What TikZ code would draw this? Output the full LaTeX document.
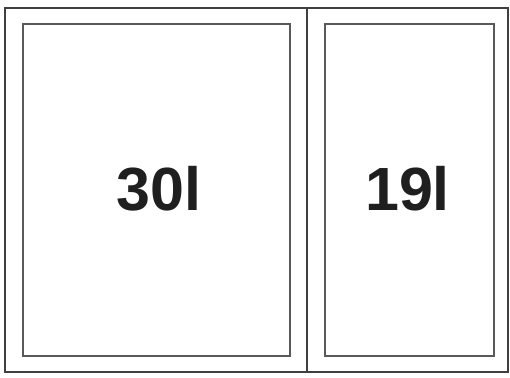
\documentclass[tikz,border=0pt]{standalone}
\usepackage{fontspec}
\setmainfont{Liberation Sans}
\usepackage{tikz}
\usetikzlibrary{positioning}

\begin{document}
\begin{tikzpicture}[
  x=1pt, y=-1pt,
  frame/.style={draw=black!75, line width=1.2pt, inner sep=0pt, outer sep=0pt},
  tank/.style={draw=black!65, line width=2pt, inner sep=0pt, outer sep=0pt,
    minimum height=331pt},
  volume/.style={inner sep=0pt, font=\fontsize{61}{61}\selectfont\bfseries,
    text=black!88}
]
  \useasboundingbox (0,0) rectangle (510,377);
  \node[frame, minimum width=503pt, minimum height=364pt] (outer) at (256.5,190) {};
  \node[tank, minimum width=267pt] (left) at (156,190) {};
  \node[tank, minimum width=169pt] (right) at (409.5,190) {};

  \node[volume] (leftvol) at ([xshift=3pt,yshift=1pt]left.center) {30l};
  \node[volume] (rightvol) at ([xshift=-2pt,yshift=1pt]right.center) {19l};

  \coordinate (split) at (307,190);
  \draw[black!75, line width=1.2pt] (split |- outer.north) -- (split |- outer.south);
\end{tikzpicture}
\end{document}
